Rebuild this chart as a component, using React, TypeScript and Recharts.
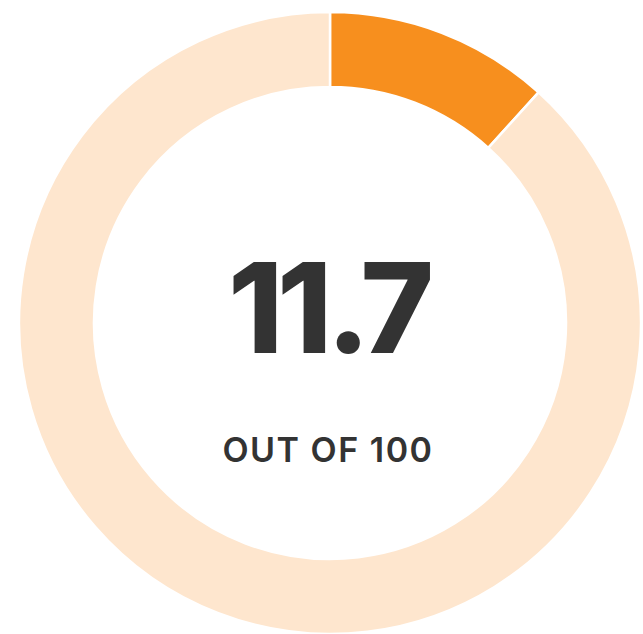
import React from "react";
import { PieChart, Pie, Cell, Label } from "recharts";

const segments = ["Score", "Remainder"];
const values = [11.7, 88.3];
const colors = ["#F78F1E", "#FEE6CE"];
const scoreText = "11.7";
const subText = "OUT OF 100";

const data = segments.map((name, i) => ({ name, value: values[i] }));

const CenterLabel = (props: any) => {
  const vb = props.viewBox || {};
  const cx = vb.cx ?? 330;
  const cy = vb.cy ?? 323;
  return (
    <g>
      <text
        x={cx - 2}
        y={cy + 30}
        textAnchor="middle"
        fontFamily="Inter, 'Noto Sans', sans-serif"
        fontWeight={800}
        fontSize={125}
        letterSpacing={-6}
        fill="#333333"
      >
        {scoreText}
      </text>
      <text
        x={cx - 2}
        y={cy + 139}
        textAnchor="middle"
        fontFamily="Inter, 'Noto Sans', sans-serif"
        fontWeight={600}
        fontSize={34}
        letterSpacing={1.5}
        fill="#333333"
      >
        {subText}
      </text>
    </g>
  );
};

export default function App() {
  return (
    <div style={{ position: "absolute", left: 0, top: 0, width: 643, height: 634, background: "#fff", overflow: "hidden" }}>
      <PieChart width={643} height={634} margin={{ top: 0, right: 0, bottom: 0, left: 0 }}>
        <Pie
          data={data}
          dataKey="value"
          nameKey="name"
          cx={330}
          cy={323}
          innerRadius={236}
          outerRadius={311}
          startAngle={90}
          endAngle={-270}
          stroke="#ffffff"
          strokeWidth={2.5}
          isAnimationActive={false}
        >
          {data.map((d, i) => (
            <Cell key={d.name} fill={colors[i]} />
          ))}
          <Label position="center" content={<CenterLabel />} />
        </Pie>
      </PieChart>
    </div>
  );
}
